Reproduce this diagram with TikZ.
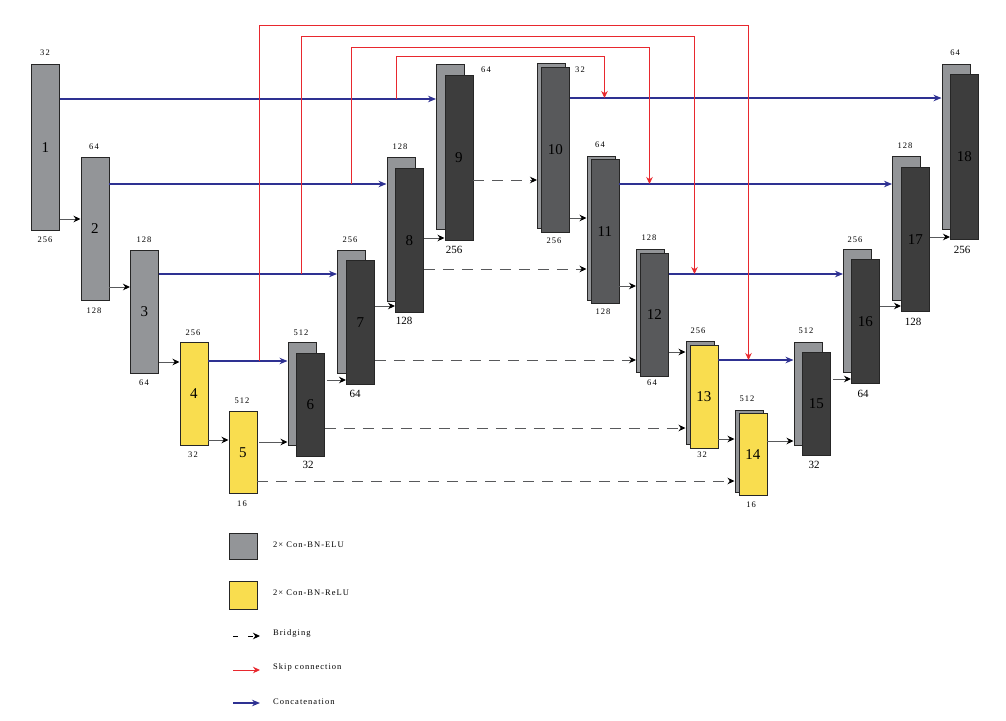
\documentclass[tikz,border=0pt]{standalone}
\usepackage{fontspec}
\setmainfont{Liberation Serif}
\newfontfamily\spacedfont[LetterSpace=12]{Liberation Serif}
\usetikzlibrary{arrows.meta}
\definecolor{blkgray}{HTML}{939598}
\definecolor{blkdark}{HTML}{3D3D3D}
\definecolor{blkmid}{HTML}{58595B}
\definecolor{blkyel}{HTML}{F9DD4F}
\definecolor{concblue}{HTML}{2E3192}
\definecolor{skipred}{HTML}{E8282E}
\definecolor{lnk}{HTML}{58595B}
\begin{document}
\begin{tikzpicture}[x=1pt,y=-1pt,
 blk/.style={draw=black!85,line width=0.8pt,inner sep=0pt,anchor=north west,minimum width=28pt,font=\fontsize{15}{15}\selectfont,text=black},
 gblk/.style={blk,fill=blkgray},
 dblk/.style={blk,fill=blkdark},
 mblk/.style={blk,fill=blkmid},
 yblk/.style={blk,fill=blkyel},
 lab/.style={font=\spacedfont\fontsize{8.5}{9}\selectfont,inner sep=0pt},
 labL/.style={font=\fontsize{11}{12}\selectfont,inner sep=0pt},
 arr/.style={draw=lnk,line width=1pt,-{Stealth[length=7pt,width=6.5pt,black]}},
 bridge/.style={arr,dash pattern=on 11pt off 8pt},
 conc/.style={draw=concblue,line width=1.1pt,-{Stealth[length=8pt,width=6.5pt]}},
 skip/.style={draw=skipred,line width=0.8pt,-{Stealth[length=7pt,width=6.5pt]}},
 legtext/.style={font=\spacedfont\fontsize{8.5}{9}\selectfont,anchor=west,inner sep=0pt},
]
\useasboundingbox (0,0) rectangle (1006,720);

% ---------- encoder ----------
\node[gblk,minimum height=166pt] (b1) at (31,64) {1};
\node[gblk,minimum height=143pt] (b2) at (80.5,157) {2};
\node[gblk,minimum height=123pt] (b3) at (130,250) {3};
\node[yblk,minimum height=103pt] (b4) at (179.5,342) {4};
\node[yblk,minimum height=82pt] (b5) at (228.5,411) {5};

% ---------- pairs ----------
\node[gblk,minimum height=103pt] (b6) at (287.5,342) {};
\node[dblk,minimum height=103pt] (f6) at (296,353) {6};
\node[gblk,minimum height=123pt] (b7) at (337,250) {};
\node[dblk,minimum height=124pt] (f7) at (346,260) {7};
\node[gblk,minimum height=144pt] (b8) at (386.5,157) {};
\node[dblk,minimum height=144pt] (f8) at (395,168) {8};
\node[gblk,minimum height=165pt] (b9) at (436,64) {};
\node[dblk,minimum height=165pt] (f9) at (444.5,75) {9};

\node[gblk,minimum height=165pt] (b10) at (537,63) {};
\node[mblk,minimum height=165pt] (f10) at (541,67) {10};
\node[gblk,minimum height=144pt] (b11) at (586.5,156) {};
\node[mblk,minimum height=144pt] (f11) at (590.5,159) {11};
\node[gblk,minimum height=123pt] (b12) at (636,249) {};
\node[mblk,minimum height=123pt] (f12) at (640,252.5) {12};
\node[gblk,minimum height=103pt] (b13) at (685.5,341) {};
\node[yblk,minimum height=103pt] (f13) at (689.5,345) {13};
\node[gblk,minimum height=82pt] (b14) at (734.5,410) {};
\node[yblk,minimum height=82pt] (f14) at (738.5,413) {14};

\node[gblk,minimum height=103pt] (b15) at (793.5,342) {};
\node[dblk,minimum height=103pt] (f15) at (802,352) {15};
\node[gblk,minimum height=123pt] (b16) at (843,249) {};
\node[dblk,minimum height=124pt] (f16) at (851,259) {16};
\node[gblk,minimum height=144pt] (b17) at (892,156) {};
\node[dblk,minimum height=144pt] (f17) at (901,167) {17};
\node[gblk,minimum height=165pt] (b18) at (941.5,64) {};
\node[dblk,minimum height=165pt] (f18) at (950,74) {18};

% ---------- size labels ----------
\node[lab] (u1) at (45,53) {32};   \node[lab] (d1) at (45,240) {256};
\node[lab] (u2) at (94,147) {64};  \node[lab] (d2) at (94,311) {128};
\node[lab] (u3) at (144,240) {128}; \node[lab] (d3) at (144,383) {64};
\node[lab] (u4) at (193,333) {256}; \node[lab] (d4) at (193,455) {32};
\node[lab] (u5) at (242,401) {512}; \node[lab] (d5) at (242,504) {16};
\node[lab] (u6) at (301,333) {512}; \node[labL] (d6) at (308,465) {32};
\node[lab] (u7) at (350,240) {256}; \node[labL] (d7) at (355,394) {64};
\node[lab] (u8) at (400,147) {128}; \node[labL] (d8) at (404,321) {128};
\node[lab] (u9) at (486,70) {64};   \node[labL] (d9) at (454,250) {256};
\node[lab] (u10) at (580,70) {32};  \node[lab] (d10) at (554,241) {256};
\node[lab] (u11) at (600,145) {64}; \node[lab] (d11) at (603,312) {128};
\node[lab] (u12) at (649,238) {128}; \node[lab] (d12) at (652,383) {64};
\node[lab] (u13) at (698,331) {256}; \node[lab] (d13) at (702,455) {32};
\node[lab] (u14) at (747,399) {512}; \node[lab] (d14) at (751,505) {16};
\node[lab] (u15) at (806,331) {512}; \node[labL] (d15) at (814,465) {32};
\node[lab] (u16) at (855,240) {256}; \node[labL] (d16) at (863,394) {64};
\node[lab] (u17) at (905,146) {128}; \node[labL] (d17) at (913,322) {128};
\node[lab] (u18) at (955,53) {64};  \node[labL] (d18) at (962,250) {256};

% ---------- forward arrows ----------
\draw[arr] (b1.east |- 0,219) -- (b2.west |- 0,219);
\draw[arr] (b2.east |- 0,287) -- (b3.west |- 0,287);
\draw[arr] (b3.east |- 0,362) -- (b4.west |- 0,362);
\draw[arr] (b4.east |- 0,440) -- (b5.west |- 0,440);
\draw[arr] ([xshift=2pt]b5.east |- 0,442) -- (b6.west |- 0,442);
\draw[arr] ([xshift=2pt]f6.east |- 0,380) -- (f7.west |- 0,380);
\draw[arr] (f7.east |- 0,306) -- (f8.west |- 0,306);
\draw[arr] (f8.east |- 0,238) -- (f9.west |- 0,238);
\draw[arr] (f10.east |- 0,218) -- (b11.west |- 0,218);
\draw[arr] (f11.east |- 0,286) -- (b12.west |- 0,286);
\draw[arr] (f12.east |- 0,352) -- (b13.west |- 0,352);
\draw[arr] (f13.east |- 0,439) -- (b14.west |- 0,439);
\draw[arr] (f14.east |- 0,441) -- (b15.west |- 0,441);
\draw[arr] ([xshift=2pt]f15.east |- 0,379) -- (f16.west |- 0,379);
\draw[arr] (f16.east |- 0,306) -- (f17.west |- 0,306);
\draw[arr] (f17.east |- 0,237) -- (f18.west |- 0,237);

% ---------- bridging ----------
\draw[bridge] (f9.east |- 0,180) -- (b10.west |- 0,180);
\draw[bridge] (f8.east |- 0,269) -- (b11.west |- 0,269);
\draw[bridge] (f7.east |- 0,360) -- (b12.west |- 0,360);
\draw[bridge] (f6.east |- 0,428) -- (b13.west |- 0,428);
\draw[bridge] (b5.east |- 0,481) -- (b14.west |- 0,481);

% ---------- concatenation ----------
\draw[conc] (b1.east |- 0,99) -- (b9.west |- 0,99);
\draw[conc] (b2.east |- 0,184) -- (b8.west |- 0,184);
\draw[conc] (b3.east |- 0,274) -- (b7.west |- 0,274);
\draw[conc] (b4.east |- 0,361) -- (b6.west |- 0,361);
\draw[conc] (f10.east |- 0,98) -- (b18.west |- 0,98);
\draw[conc] (f11.east |- 0,184) -- (b17.west |- 0,184);
\draw[conc] (f12.east |- 0,274) -- (b16.west |- 0,274);
\draw[conc] (f13.east |- 0,360) -- (b15.west |- 0,360);

% ---------- skip connections ----------
\coordinate (s1a) at (396,99);  \coordinate (s1b) at (604.5,98);
\coordinate (s2a) at (351,184); \coordinate (s2b) at (649.5,184);
\coordinate (s3a) at (301.5,274); \coordinate (s3b) at (694.5,274);
\coordinate (s4a) at (259.5,361); \coordinate (s4b) at (748.5,360);
\draw[skip] (s1a) -- ++(0,-43) -| (s1b);
\draw[skip] (s2a) -- ++(0,-136.3) -| (s2b);
\draw[skip] (s3a) -- ++(0,-237.3) -| (s3b);
\draw[skip] (s4a) -- ++(0,-336) -| (s4b);

% ---------- legend ----------
\node[gblk,minimum height=26pt] (lg1) at (228.5,533) {};
\node[legtext] (lt1) at (273,545) {2× Con-BN-ELU};
\node[yblk,minimum height=28pt] (lg2) at (228.5,581) {};
\node[legtext] (lt2) at (273,593) {2× Con-BN-ReLU};
\coordinate (lb1) at (233,636); \coordinate (lb2) at (260,636);
\draw[arr,draw=black,dash pattern=on 5pt off 10pt] (lb1) -- (lb2);
\node[legtext] (lt3) at (273,633) {Bridging};
\coordinate (lr1) at (233,670); \coordinate (lr2) at (260,670);
\draw[skip,line width=1pt] (lr1) -- (lr2);
\node[legtext] (lt4) at (273,667) {Skip connection};
\coordinate (lc1) at (233,703); \coordinate (lc2) at (260,703);
\draw[conc] (lc1) -- (lc2);
\node[legtext] (lt5) at (273,702) {Concatenation};
\end{tikzpicture}
\end{document}
